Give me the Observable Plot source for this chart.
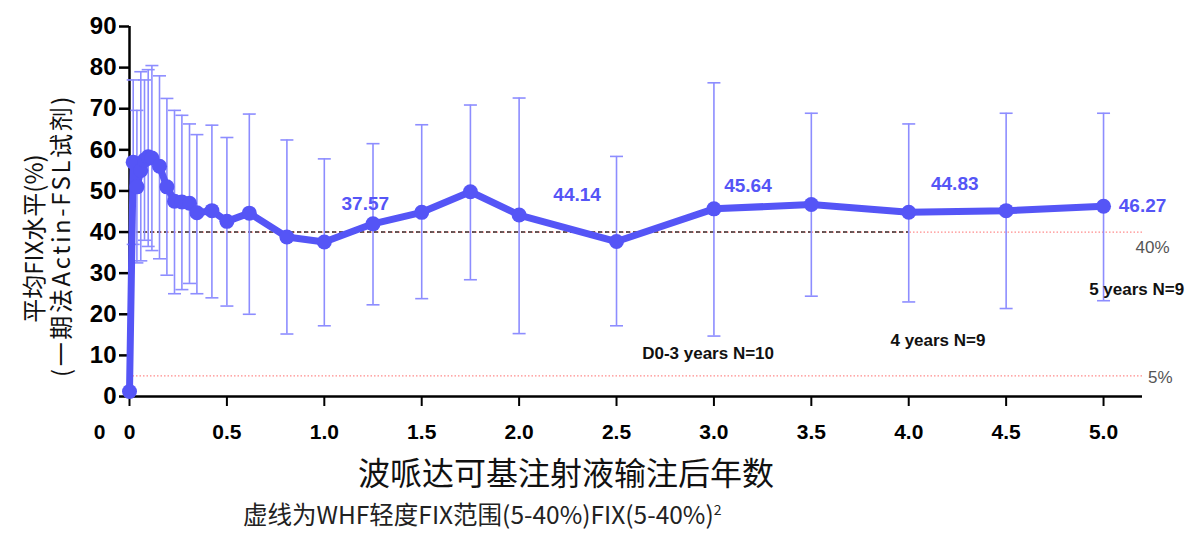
<!DOCTYPE html>
<html>
<head>
<meta charset="utf-8">
<script src="https://cdn.jsdelivr.net/npm/d3@7"></script>
<script src="https://cdn.jsdelivr.net/npm/@observablehq/plot@0.6"></script>
<style>
  html, body { margin: 0; padding: 0; background: #fff; overflow: hidden; }
  #chart { width: 1191px; height: 496px; }
  .caption {
    font-family: "Noto Sans CJK SC", "Noto Sans", sans-serif;
    font-size: 24.5px;
    line-height: 36px;
    height: 36px;
    color: #222;
    margin: 0 0 0 243px;
    white-space: nowrap;
  }
  .caption sup { font-size: 14px; vertical-align: 9px; line-height: 0; }
</style>
</head>
<body>
<div id="chart"></div>
<div class="caption">虚线为WHF轻度FIX范围(5-40%)FIX(5-40%)<sup>2</sup></div>
<script>
// Time since infusion (years) and mean FIX activity (%) with error-bar limits
const years = [0, 0.019, 0.038, 0.058, 0.077, 0.096, 0.115, 0.154, 0.192, 0.231, 0.269, 0.308, 0.346, 0.423, 0.5, 0.615, 0.808, 1.0, 1.25, 1.5, 1.75, 2.0, 2.5, 3.0, 3.5, 4.0, 4.5, 5.0];
const meanFIX = [1.2, 57, 51, 55, 57.5, 58.3, 58, 56, 51, 47.5, 47.3, 47, 44.7, 45.2, 42.6, 44.6, 38.8, 37.57, 42.0, 44.8, 49.8, 44.14, 37.7, 45.64, 46.7, 44.83, 45.2, 46.27];
const upperFIX = [null, 77, 69.6, 79, 77, 79.5, 80.5, 78, 72.5, 69.6, 68.4, 66.3, 63.7, 66, 63, 68.7, 62.4, 57.8, 61.5, 66.1, 70.9, 72.6, 58.4, 76.3, 68.9, 66.3, 68.9, 68.9];
const lowerFIX = [null, 37, 32.5, 33, 38, 36.5, 35.5, 33.5, 29.5, 25, 26, 27.5, 25, 24, 22, 20, 15.2, 17.2, 22.3, 23.8, 28.4, 15.3, 17.2, 14.7, 24.4, 23.0, 21.4, 23.3];

// Axis ticks
const xTicks = [0, 0.5, 1.0, 1.5, 2.0, 2.5, 3.0, 3.5, 4.0, 4.5, 5.0];
const yTicks = [0, 10, 20, 30, 40, 50, 60, 70, 80, 90];

// Mild-haemophilia FIX range bounds (%)
const rangeUpper = 40;
const rangeLower = 5;

// Cohort annotations
const cohortLabels = ["D0-3 years N=10", "4 years N=9", "5 years N=9"];
const cohortX = [2.97, 4.15, 5.17];
const cohortY = [10.5, 13.6, 26];

const yTitle1 = "平均FIX水平(%)";
const yTitle2 = "(一期法Actin-FSL试剂)";
const xTitle = "波哌达可基注射液输注后年数";

const lineColor = "#5555f6";
const barColor = "#8d8dff";

const rows = years.map((t, i) => ({t, mean: meanFIX[i], hi: upperFIX[i], lo: lowerFIX[i]}));
const bars = rows.filter(d => d.hi != null);
const annual = t => rows.filter(d => d.t === t);
const cohorts = cohortLabels.map((label, i) => ({label, x: cohortX[i], y: cohortY[i]}));

// Horizontal cap used at both ends of each error bar
const capSymbol = {
  draw(context, size) {
    const w = Math.sqrt(size / Math.PI);
    context.moveTo(-w, 0);
    context.lineTo(w, 0);
  }
};

const valueText = (t, dx, dy) => Plot.text(annual(t), {
  x: "t", y: "mean", text: d => d.mean.toFixed(2), dx, dy,
  fill: lineColor, fontSize: 19, fontWeight: "bold"
});

const cjk = "'Noto Sans CJK SC', sans-serif";

const chart = Plot.plot({
  width: 1191,
  height: 496,
  marginLeft: 129,
  marginRight: 49,
  marginTop: 26,
  marginBottom: 100,
  x: {domain: [0, 5.2]},
  y: {domain: [0, 90]},
  style: {fontFamily: "'Liberation Sans', Arial, sans-serif", background: "#fff", color: "#000", overflow: "visible"},
  marks: [
    // Reference range lines
    Plot.ruleY([rangeUpper], {x1: 0, x2: 5.2, stroke: "#ff8c8c", strokeWidth: 1.2, strokeDasharray: "1.5,2"}),
    Plot.ruleY([rangeLower], {x1: 0, x2: 5.2, stroke: "#ff8c8c", strokeWidth: 1.2, strokeDasharray: "1.5,2"}),
    Plot.ruleY([rangeUpper], {x1: 0, x2: 4.0, stroke: "#3a2a2a", strokeWidth: 1.6, strokeDasharray: "4,3"}),
    Plot.text([rangeUpper], {y: d => d, frameAnchor: "right", text: d => `${d}%`, dx: 27, dy: 15, fill: "#555", fontSize: 17}),
    Plot.text([rangeLower], {y: d => d, frameAnchor: "right", text: d => `${d}%`, dx: 30, dy: 2, fill: "#555", fontSize: 17}),

    // Axes
    Plot.axisY({ticks: yTicks, tickSize: 10, tickPadding: 3, fontSize: 24, fontWeight: "bold", strokeWidth: 2.5, label: null}),
    Plot.axisX({ticks: xTicks, tickFormat: d => d === 0 ? "0" : d.toFixed(1), tickSize: 10, tickPadding: 18, fontSize: 21, fontWeight: "bold", strokeWidth: 2, label: null}),
    Plot.text([0], {x: d => d, frameAnchor: "bottom", text: d => String(d), dx: -30, dy: 42, fontSize: 21, fontWeight: "bold"}),
    Plot.ruleX([0], {y1: 0, y2: 90, strokeWidth: 2.5}),
    Plot.ruleY([0], {x1: 0, x2: 5.2, strokeWidth: 2.5}),

    // Error bars
    Plot.ruleX(bars, {x: "t", y1: "lo", y2: "hi", stroke: barColor, strokeWidth: 1.6}),
    Plot.dot(bars, {x: "t", y: "hi", symbol: capSymbol, r: 6.5, stroke: barColor, strokeWidth: 1.6}),
    Plot.dot(bars, {x: "t", y: "lo", symbol: capSymbol, r: 6.5, stroke: barColor, strokeWidth: 1.6}),

    // Mean FIX level
    Plot.line(rows, {x: "t", y: "mean", stroke: lineColor, strokeWidth: 7, strokeLinejoin: "round"}),
    Plot.dot(rows, {x: "t", y: "mean", r: 7.5, fill: lineColor}),

    // Annual mean labels
    valueText(1.0, 41, -38),
    valueText(2.0, 58, -20),
    valueText(3.0, 34, -23),
    valueText(4.0, 46, -28),
    valueText(5.0, 39, 0),

    // Cohort sizes
    Plot.text(cohorts, {x: "x", y: "y", text: "label", fontSize: 17, fontWeight: "bold", fill: "#111"}),

    // Axis titles
    Plot.text([yTitle1], {frameAnchor: "left", textAnchor: "middle", text: d => d, rotate: -90, dx: -94, dy: 27, fontSize: 24, fontFamily: cjk, fill: "#111"}),
    Plot.text([yTitle2], {frameAnchor: "left", textAnchor: "middle", text: d => d, rotate: -90, dx: -67, dy: 24, fontSize: 24, fontFamily: cjk, fill: "#111"}),
    Plot.text([xTitle], {frameAnchor: "bottom", text: d => d, dx: -70, dy: 88, fontSize: 32, fontFamily: cjk, fill: "#111"})
  ]
});

// The second y-title line is set with wider tracking
for (const t of chart.querySelectorAll("text")) {
  if (t.textContent === yTitle2) t.style.letterSpacing = "2.6px";
}

document.getElementById("chart").appendChild(chart);
</script>
</body>
</html>
